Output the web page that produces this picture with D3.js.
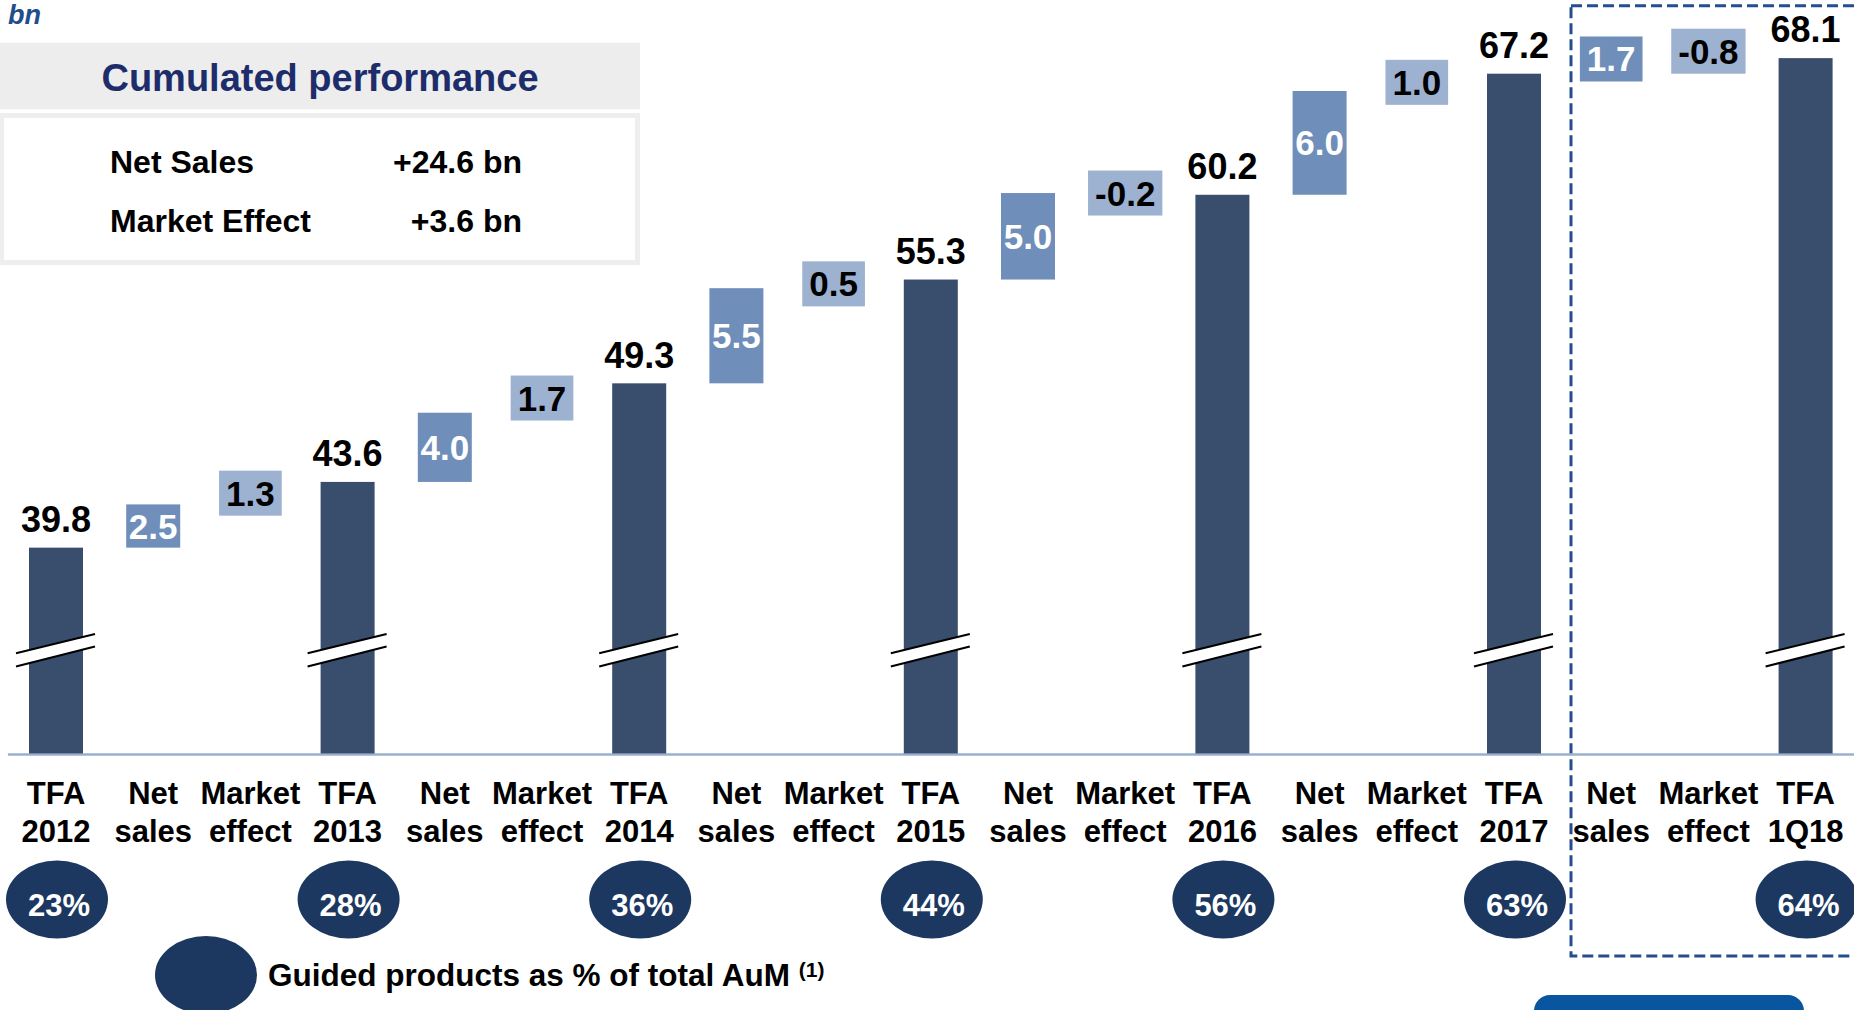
<!DOCTYPE html>
<html><head><meta charset="utf-8">
<script src="https://cdn.jsdelivr.net/npm/d3@7"></script>
<style>
html,body{margin:0;padding:0;background:#fff;overflow:hidden}
svg{display:block;font-family:"Liberation Sans",Arial,Helvetica,sans-serif;font-weight:bold}
</style></head><body>
<svg id="chart" width="1854" height="1010"></svg>
<script>
// ---------- data ----------
const categories = [
  "TFA|2012","Net|sales","Market|effect",
  "TFA|2013","Net|sales","Market|effect",
  "TFA|2014","Net|sales","Market|effect",
  "TFA|2015","Net|sales","Market|effect",
  "TFA|2016","Net|sales","Market|effect",
  "TFA|2017","Net|sales","Market|effect",
  "TFA|1Q18"
];
const tfaPeriods   = ["2012","2013","2014","2015","2016","2017","1Q18"];
const tfaValues    = [39.8, 43.6, 49.3, 55.3, 60.2, 67.2, 68.1];
const netSales     = [2.5, 4.0, 5.5, 5.0, 6.0, 1.7];
const marketEffect = [1.3, 1.7, 0.5, -0.2, 1.0, -0.8];
const guidedShare  = [23, 28, 36, 44, 56, 63, 64];
const summaryLabels = ["Net Sales","Market Effect"];
const summaryValues = ["+24.6 bn","+3.6 bn"];
const unitLabel = "bn";
const summaryTitle = "Cumulated performance";
const legendLabel = "Guided products as % of total AuM";
const legendNote = "(1)";

// ---------- setup ----------
const svg = d3.select("#chart");
const x = d3.scaleBand().domain(d3.range(categories.length)).range([7.4, 1854.2]).padding(0);
const y = d3.scaleLinear().domain([27.9, 71.46]).range([753.5, 0]);
const cx = i => x(i) + x.bandwidth() / 2;
const barW = 54;
const C = {tfa:"#394D6D", net:"#6F8EBA", mkt:"#9DB1D0", circle:"#1C3860", axis:"#9AB0CE", dash:"#234F8C"};

// unit
svg.append("text").attr("x", 8).attr("y", 24).attr("font-style","italic")
  .attr("font-size", 27).attr("fill", "#1F4E8C").text(unitLabel);

// summary panel
svg.append("rect").attr("x",0).attr("y",42.7).attr("width",640).attr("height",66.6).attr("fill","#EDEDED");
svg.append("text").attr("x",320).attr("y",90.6).attr("text-anchor","middle")
  .attr("font-size",38).attr("fill","#1D2D6B").text(summaryTitle);
svg.append("rect").attr("x",1.5).attr("y",115.5).attr("width",636).attr("height",147)
  .attr("fill","#fff").attr("stroke","#EEEEEE").attr("stroke-width",5);
const rowBase = [173.3, 231.7];
summaryLabels.forEach((s,k)=>{
  svg.append("text").attr("x",110).attr("y",rowBase[k]).attr("font-size",32).attr("fill","#000").text(s);
  svg.append("text").attr("x",522).attr("y",rowBase[k]).attr("text-anchor","end").attr("font-size",32).attr("fill","#000").text(summaryValues[k]);
});

// dashed highlight box
svg.append("rect").attr("x",1571).attr("y",5.7).attr("width",400).attr("height",950.3)
  .attr("fill","none").attr("stroke",C.dash).attr("stroke-width",3).attr("stroke-dasharray","11,5");

// x axis
const axisG = svg.append("g").attr("transform","translate(0,754)")
  .call(d3.axisBottom(x).tickSize(0).tickSizeOuter(0).tickFormat(i => categories[i]));
axisG.attr("font-family", null).attr("font-size", null);
axisG.select(".domain").attr("stroke", C.axis).attr("stroke-width", 2.5);
axisG.selectAll(".tick text").each(function(i){
  const t = d3.select(this);
  const parts = categories[i].split("|");
  t.text(null).attr("y", null).attr("dy", null);
  parts.forEach((p,j)=> t.append("tspan").attr("x",0).attr("y", j ? 87.7 : 50.3).text(p));
}).attr("font-size",31).attr("fill","#000");

// TFA bars
const tfaData = tfaValues.map((v,k)=>({v, i:3*k, period:tfaPeriods[k]}));
svg.selectAll("rect.tfa").data(tfaData).join("rect").attr("class","tfa")
  .attr("x", d=>cx(d.i)-barW/2).attr("y", d=>y(d.v))
  .attr("width", barW).attr("height", d=>y.range()[0]-y(d.v)).attr("fill", C.tfa);
svg.selectAll("text.tfa").data(tfaData).join("text").attr("class","tfa")
  .attr("x", d=>cx(d.i)).attr("y", d=>y(d.v)-15.7).attr("text-anchor","middle")
  .attr("font-size",36).attr("fill","#000").text(d=>d.v.toFixed(1));

// axis break marks
const brk = svg.selectAll("g.brk").data(tfaData).join("g").attr("class","brk")
  .attr("transform", d=>`translate(${cx(d.i)},0)`);
brk.append("polygon").attr("points","-40,653.3 39,634 39,646.5 -40,666.5").attr("fill","#fff");
brk.append("line").attr("x1",-40).attr("y1",653.3).attr("x2",39).attr("y2",634).attr("stroke","#000").attr("stroke-width",2);
brk.append("line").attr("x1",-40).attr("y1",666.5).attr("x2",39).attr("y2",646.5).attr("stroke","#000").attr("stroke-width",2);

// floating steps
const steps = [];
netSales.forEach((v,k)=>{ const s=tfaValues[k]; steps.push({i:3*k+1, a:s, b:s+v, v, type:"net"}); });
marketEffect.forEach((v,k)=>{ const e=tfaValues[k+1]; steps.push({i:3*k+2, a:e-v, b:e, v, type:"mkt"}); });
steps.forEach(d=>{
  const y0 = y(Math.max(d.a,d.b)), y1 = y(Math.min(d.a,d.b));
  const h = y1-y0, mid = (y0+y1)/2;
  const g = svg.append("g");
  const r = g.append("rect");
  const t = g.append("text").attr("x", cx(d.i)).attr("y", mid+12.5).attr("text-anchor","middle")
    .attr("font-size",35).attr("fill", d.type==="net" ? "#fff" : "#000").text(d.v.toFixed(1));
  let bw = barW, bh = h, by = y0;
  if (h < 40) { bw = t.node().getComputedTextLength()+14; bh = 45; by = mid-22.5; }
  r.attr("x", cx(d.i)-bw/2).attr("y", by).attr("width", bw).attr("height", bh)
   .attr("fill", d.type==="net" ? C.net : C.mkt);
});

// guided share bubbles
const shareData = guidedShare.map((v,k)=>({v, i:3*k}));
svg.selectAll("ellipse.share").data(shareData).join("ellipse").attr("class","share")
  .attr("cx", d=>cx(d.i)+1).attr("cy",899.5).attr("rx",51).attr("ry",39).attr("fill",C.circle);
svg.selectAll("text.share").data(shareData).join("text").attr("class","share")
  .attr("x", d=>cx(d.i)+3).attr("y",915.7).attr("text-anchor","middle")
  .attr("font-size",31).attr("fill","#fff").text(d=>d.v+"%");

// legend
svg.append("ellipse").attr("cx",206).attr("cy",975).attr("rx",51).attr("ry",39).attr("fill",C.circle);
const lt = svg.append("text").attr("x",268).attr("y",986).attr("font-size",31.5).attr("fill","#000");
lt.append("tspan").text(legendLabel + " ");
lt.append("tspan").attr("font-size",21).attr("dy",-9).text(legendNote);

// bottom button shape
svg.append("rect").attr("x",1534).attr("y",995).attr("width",270).attr("height",40).attr("rx",16).attr("fill","#0A55A0");
</script>
</body></html>
